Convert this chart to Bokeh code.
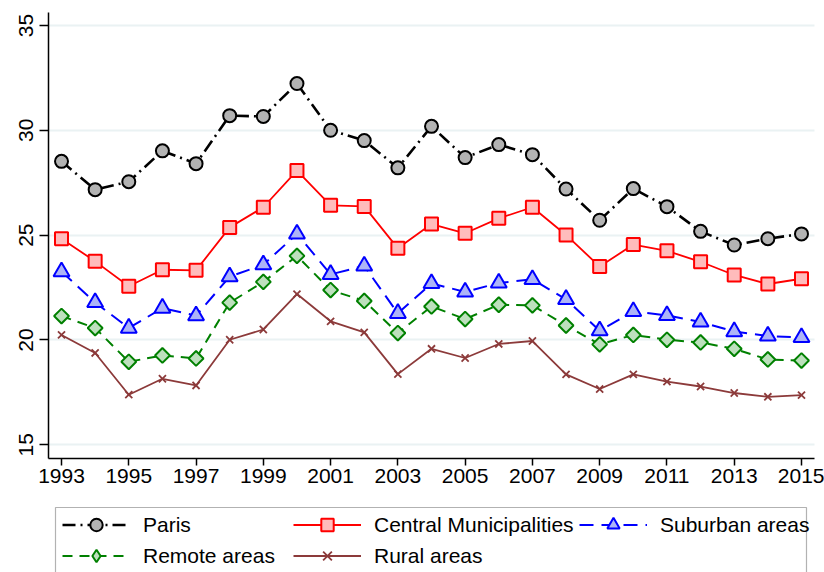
import math
from bokeh.plotting import figure
from bokeh.models import Legend, LegendItem, FixedTicker, Range1d, BoxAnnotation
from bokeh.embed import file_html
from bokeh.resources import INLINE

years = list(range(1993, 2016))
paris = [28.52, 27.17, 27.55, 29.02, 28.41, 30.70, 30.66, 32.23, 30.00, 29.51, 28.21, 30.19,
         28.70, 29.32, 28.84, 27.20, 25.71, 27.22, 26.36, 25.18, 24.53, 24.83, 25.06]
central = [24.83, 23.75, 22.56, 23.35, 23.32, 25.37, 26.33, 28.08, 26.42, 26.37, 24.37, 25.53,
           25.09, 25.80, 26.33, 25.01, 23.50, 24.55, 24.25, 23.73, 23.10, 22.67, 22.92]
suburban = [23.26, 21.79, 20.57, 21.52, 21.16, 23.02, 23.59, 25.06, 23.13, 23.53, 21.27, 22.70,
            22.29, 22.72, 22.89, 21.94, 20.44, 21.36, 21.17, 20.86, 20.40, 20.19, 20.12]
remote = [21.14, 20.57, 18.96, 19.26, 19.12, 21.78, 22.77, 24.01, 22.38, 21.86, 20.33, 21.60,
          21.00, 21.68, 21.65, 20.69, 19.79, 20.24, 20.01, 19.88, 19.58, 19.07, 19.02]
rural = [20.24, 19.38, 17.39, 18.15, 17.83, 20.01, 20.50, 22.19, 20.89, 20.36, 18.37, 19.58,
         19.14, 19.81, 19.95, 18.36, 17.66, 18.36, 18.01, 17.78, 17.47, 17.29, 17.37]
labels = ["Paris", "Central Municipalities", "Suburban areas", "Remote areas", "Rural areas"]
x_ticks = list(range(1993, 2016, 2))
y_ticks = [15, 20, 25, 30, 35]

FONT = "Liberation Sans"
X_MIN, X_MAX = 1992.61, 2015.39   # axis extents
Y_MIN, Y_MAX = 14.33, 35.62

p = figure(width=824, height=572, min_border=0,
           x_range=Range1d(1991.186, 2015.684), y_range=Range1d(8.909, 36.192),
           output_backend="svg", toolbar_location=None)
p.outline_line_color = None
p.background_fill_color = "white"
p.border_fill_color = "white"

p.xgrid.visible = False
p.ygrid.ticker = FixedTicker(ticks=y_ticks)
p.ygrid.grid_line_color = "#eaf2f3"
p.ygrid.grid_line_width = 2
p.ygrid.cross_bounds = (X_MIN, X_MAX)

for ax in (p.xaxis[0], p.yaxis[0]):
    ax.axis_line_color = "black"
    ax.axis_line_width = 1.5
    ax.major_tick_line_color = "black"
    ax.major_tick_line_width = 1.5
    ax.major_tick_in = 0
    ax.minor_tick_line_color = None
    ax.major_label_text_font = FONT
    ax.major_label_text_font_size = "21px"
    ax.major_label_text_color = "black"

p.xaxis.ticker = FixedTicker(ticks=x_ticks)
p.xaxis.major_tick_out = 7
p.xaxis.major_label_standoff = 3
p.xaxis.fixed_location = Y_MIN
p.xaxis.bounds = (X_MIN, X_MAX)
p.yaxis.ticker = FixedTicker(ticks=y_ticks)
p.yaxis.fixed_location = X_MIN
p.yaxis.bounds = (Y_MIN, Y_MAX)
p.yaxis.major_tick_out = 9
p.yaxis.major_label_standoff = 6
p.yaxis.major_label_orientation = "vertical"

rend = []
# Paris
l = p.line(years, paris, line_color="black", line_width=2.6, line_dash="13 5 2 5")
s = p.scatter(years, paris, marker="circle", size=13, fill_color="#b3b3b3",
              line_color="black", line_width=2)
rend.append([l, s])
# Central
l = p.line(years, central, line_color="#ff0000", line_width=1.8)
s = p.scatter(years, central, marker="square", size=13, fill_color="#ffbcbc",
              line_color="#ff0000", line_width=2)
rend.append([l, s])
# Suburban
l = p.line(years, suburban, line_color="#0000ff", line_width=2, line_dash="14 8")
s = p.scatter(years, suburban, marker="triangle", size=16, fill_color="#adb4f7",
              line_color="#0000ff", line_width=2)
rend.append([l, s])
# Remote: small diamonds (legend key) hidden under rotated squares in the plot
l = p.line(years, remote, line_color="#008000", line_width=2, line_dash="10 7")
key = p.scatter(years, remote, marker="diamond", size=7, fill_color="#bde0bd",
                line_color="#008000", line_width=2)
s = p.scatter(years, remote, marker="square", angle=math.pi / 4, size=10.5,
              fill_color="#bde0bd", line_color="#008000", line_width=2)
rend.append([l, key])
# Rural
l = p.line(years, rural, line_color="#8c3a3a", line_width=1.8)
s = p.scatter(years, rural, marker="x", size=10, line_color="#8c3a3a", line_width=1.8)
rend.append([l, s])

# legend frame
p.add_layout(BoxAnnotation(left=55, right=806, top=507, bottom=600,
                           left_units="canvas", right_units="canvas",
                           top_units="canvas", bottom_units="canvas",
                           fill_color=None, line_color="black", line_width=1.2))

columns = [([0, 3], 62, 1), ([1, 4], 293, 1), ([2], 579, 32)]
for idx, vx, vy in columns:
    lg = Legend(items=[LegendItem(label=labels[i], renderers=rend[i]) for i in idx],
                location=(vx, vy), orientation="vertical",
                label_text_font=FONT, label_text_font_size="21px", label_text_color="black",
                glyph_width=68, glyph_height=31, label_standoff=13, label_height=31,
                spacing=0, padding=0, margin=0,
                border_line_color=None, background_fill_alpha=0)
    p.add_layout(lg, "center")

open("out.html", "w").write(file_html(p, INLINE))
